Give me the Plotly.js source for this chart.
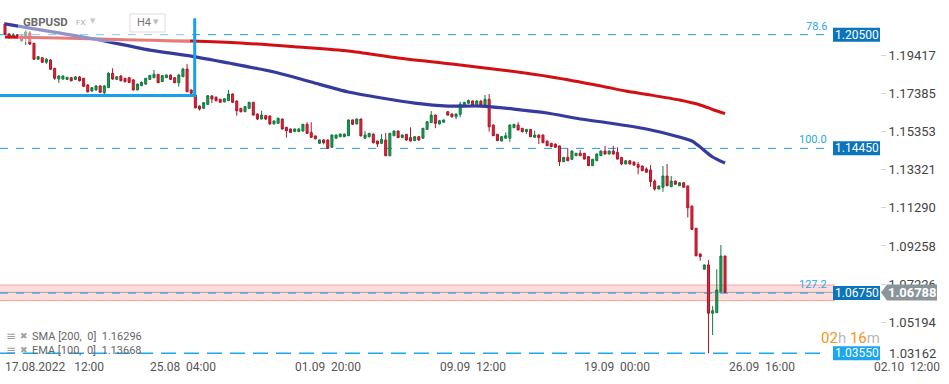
<!DOCTYPE html>
<html>
<head>
<meta charset="utf-8">
<script src="https://cdn.plot.ly/plotly-3.0.1.min.js"></script>
<style>
html,body{margin:0;padding:0;background:#fff;}
#chart{width:949px;height:384px;}
</style>
</head>
<body>
<div id="chart"></div>
<script>
// ---------- DATA (GBPUSD, H4 bars) ----------
const openP = [1.2107,1.2053,1.2043,1.2048,1.2043,1.2037,1.2059,1.2004,1.1919,1.1927,
1.1903,1.1915,1.1871,1.1814,1.1814,1.1812,1.1821,1.1812,1.1825,1.1818,
1.1782,1.1750,1.1756,1.1777,1.1741,1.1768,1.1844,1.1812,1.1830,1.1818,
1.1821,1.1809,1.1756,1.1778,1.1787,1.1812,1.1821,1.1839,1.1800,1.1821,
1.1835,1.1821,1.1794,1.1826,1.1867,1.1756,1.1729,1.1670,1.1658,1.1679,
1.1724,1.1717,1.1706,1.1692,1.1699,1.1734,1.1697,1.1658,1.1640,1.1658,
1.1690,1.1628,1.1601,1.1619,1.1617,1.1575,1.1578,1.1601,1.1557,1.1548,
1.1534,1.1534,1.1537,1.1573,1.1530,1.1511,1.1472,1.1490,1.1490,1.1451,
1.1499,1.1507,1.1507,1.1512,1.1596,1.1575,1.1601,1.1499,1.1507,1.1521,
1.1484,1.1472,1.1490,1.1406,1.1512,1.1537,1.1502,1.1520,1.1502,1.1486,
1.1507,1.1499,1.1546,1.1582,1.1622,1.1575,1.1584,1.1640,1.1628,1.1613,
1.1626,1.1672,1.1685,1.1697,1.1672,1.1697,1.1676,1.1706,1.1569,1.1520,
1.1484,1.1499,1.1499,1.1555,1.1569,1.1552,1.1534,1.1546,1.1504,1.1516,
1.1516,1.1484,1.1472,1.1468,1.1458,1.1374,1.1397,1.1387,1.1406,1.1419,
1.1419,1.1401,1.1353,1.1379,1.1406,1.1431,1.1415,1.1431,1.1424,1.1397,
1.1362,1.1379,1.1372,1.1359,1.1351,1.1335,1.1330,1.1271,1.1229,1.1238,
1.1298,1.1241,1.1271,1.1246,1.1262,1.1245,1.1138,1.1020,1.0883,1.0802,
1.0825,1.0568,1.0571,1.0682,1.0872];
const highP = [1.2117,1.2059,1.2059,1.2053,1.2048,1.2075,1.2069,1.2006,1.1936,1.1931,
1.1926,1.1920,1.1873,1.1835,1.1833,1.1825,1.1825,1.1830,1.1830,1.1819,
1.1787,1.1771,1.1782,1.1782,1.1782,1.1851,1.1871,1.1830,1.1835,1.1819,
1.1825,1.1814,1.1790,1.1801,1.1819,1.1835,1.1862,1.1841,1.1835,1.1838,
1.1838,1.1825,1.1841,1.1873,1.1894,1.1758,1.1732,1.1673,1.1692,1.1729,
1.1729,1.1721,1.1708,1.1713,1.1756,1.1737,1.1700,1.1660,1.1670,1.1692,
1.1692,1.1630,1.1645,1.1622,1.1620,1.1593,1.1609,1.1604,1.1559,1.1551,
1.1551,1.1553,1.1575,1.1584,1.1584,1.1513,1.1492,1.1495,1.1492,1.1519,
1.1519,1.1524,1.1524,1.1599,1.1599,1.1604,1.1604,1.1537,1.1527,1.1524,
1.1487,1.1521,1.1527,1.1527,1.1540,1.1540,1.1519,1.1521,1.1557,1.1511,
1.1511,1.1553,1.1591,1.1644,1.1625,1.1596,1.1599,1.1644,1.1630,1.1630,
1.1693,1.1692,1.1705,1.1700,1.1702,1.1700,1.1729,1.1734,1.1572,1.1521,
1.1511,1.1530,1.1572,1.1575,1.1584,1.1553,1.1548,1.1548,1.1539,1.1519,
1.1519,1.1487,1.1474,1.1471,1.1460,1.1399,1.1445,1.1434,1.1420,1.1436,
1.1420,1.1403,1.1388,1.1418,1.1434,1.1458,1.1434,1.1458,1.1451,1.1399,
1.1383,1.1383,1.1375,1.1372,1.1354,1.1344,1.1356,1.1280,1.1247,1.1351,
1.1362,1.1298,1.1274,1.1266,1.1266,1.1247,1.1141,1.1021,1.0886,1.0827,
1.0851,1.0606,1.0802,1.0931,1.0875];
const lowP = [1.2048,1.2027,1.2032,1.2032,1.2011,1.1995,1.1995,1.1915,1.1915,1.1899,
1.1894,1.1862,1.1809,1.1793,1.1809,1.1809,1.1801,1.1809,1.1801,1.1771,
1.1742,1.1745,1.1750,1.1740,1.1718,1.1766,1.1809,1.1809,1.1801,1.1795,
1.1793,1.1753,1.1753,1.1777,1.1782,1.1809,1.1819,1.1793,1.1798,1.1819,
1.1809,1.1793,1.1773,1.1825,1.1745,1.1734,1.1657,1.1646,1.1654,1.1676,
1.1686,1.1694,1.1686,1.1689,1.1697,1.1686,1.1619,1.1636,1.1638,1.1654,
1.1620,1.1596,1.1599,1.1596,1.1569,1.1572,1.1575,1.1545,1.1502,1.1527,
1.1532,1.1532,1.1535,1.1521,1.1500,1.1492,1.1468,1.1466,1.1442,1.1447,
1.1495,1.1505,1.1505,1.1511,1.1569,1.1572,1.1508,1.1495,1.1503,1.1471,
1.1452,1.1468,1.1404,1.1402,1.1511,1.1500,1.1500,1.1484,1.1482,1.1484,
1.1484,1.1495,1.1543,1.1580,1.1552,1.1572,1.1583,1.1620,1.1609,1.1600,
1.1610,1.1670,1.1681,1.1670,1.1670,1.1673,1.1673,1.1534,1.1511,1.1484,
1.1482,1.1497,1.1480,1.1553,1.1540,1.1529,1.1521,1.1505,1.1503,1.1468,
1.1474,1.1458,1.1452,1.1447,1.1351,1.1372,1.1378,1.1383,1.1404,1.1404,
1.1386,1.1351,1.1351,1.1378,1.1404,1.1412,1.1412,1.1412,1.1386,1.1356,
1.1359,1.1359,1.1353,1.1307,1.1325,1.1317,1.1241,1.1220,1.1226,1.1214,
1.1245,1.1239,1.1253,1.1245,1.1237,1.1078,1.1013,1.0870,1.0847,1.0801,
1.0355,1.0452,1.0569,1.0681,1.0676];
const closeP = [1.2053,1.2043,1.2048,1.2037,1.2018,1.2064,1.2000,1.1919,1.1933,1.1903,
1.1919,1.1866,1.1818,1.1830,1.1830,1.1823,1.1805,1.1825,1.1805,1.1775,
1.1746,1.1768,1.1777,1.1743,1.1777,1.1844,1.1814,1.1826,1.1805,1.1800,
1.1796,1.1756,1.1787,1.1796,1.1818,1.1833,1.1839,1.1794,1.1832,1.1835,
1.1812,1.1794,1.1835,1.1867,1.1746,1.1738,1.1661,1.1654,1.1688,1.1725,
1.1708,1.1699,1.1690,1.1709,1.1734,1.1690,1.1645,1.1640,1.1667,1.1690,
1.1622,1.1601,1.1622,1.1601,1.1575,1.1591,1.1605,1.1548,1.1539,1.1530,
1.1548,1.1548,1.1573,1.1525,1.1504,1.1496,1.1490,1.1475,1.1445,1.1516,
1.1516,1.1521,1.1521,1.1596,1.1573,1.1601,1.1512,1.1516,1.1525,1.1475,
1.1468,1.1493,1.1406,1.1525,1.1537,1.1502,1.1516,1.1490,1.1484,1.1507,
1.1490,1.1552,1.1587,1.1622,1.1578,1.1592,1.1596,1.1622,1.1613,1.1628,
1.1681,1.1690,1.1699,1.1672,1.1697,1.1676,1.1706,1.1560,1.1512,1.1486,
1.1507,1.1512,1.1569,1.1573,1.1543,1.1534,1.1546,1.1507,1.1516,1.1502,
1.1475,1.1459,1.1454,1.1451,1.1374,1.1397,1.1379,1.1431,1.1419,1.1406,
1.1388,1.1353,1.1387,1.1415,1.1431,1.1415,1.1431,1.1415,1.1388,1.1362,
1.1379,1.1362,1.1356,1.1344,1.1326,1.1318,1.1268,1.1229,1.1245,1.1298,
1.1246,1.1271,1.1254,1.1262,1.1238,1.1129,1.1014,1.0874,1.0869,1.0825,
1.0568,1.0581,1.0692,1.0872,1.06788];

// Moving averages (read at selected bars)
const smaIdx = [0,13,23,35,45,57,71,83,95,108,120,132,144,150,156,163,168,171,174];
const smaVal = [1.2037,1.2032,1.2027,1.2020,1.2016,1.2006,1.1984,1.1963,1.1926,1.1894,
                1.1862,1.1825,1.1777,1.1750,1.1729,1.1702,1.1676,1.1652,1.16296];
const emaIdx = [0,6,13,23,35,45,54,66,74,83,91,99,107,115,123,131,139,146,155,162,166,168,171,174];
const emaVal = [1.2107,1.2085,1.2059,1.2021,1.1968,1.1936,1.1899,1.1846,1.1798,1.1745,
                1.1713,1.1686,1.1670,1.1670,1.1654,1.1633,1.1601,1.1580,1.1548,1.1511,
                1.1484,1.1452,1.1399,1.13668];

// Time axis labels (positioned at bar numbers)
const xTickIdx = [0,35,70,105,140,175,210];
const xTickText = ['17.08.2022\u00a0\u00a0\u00a012:00','25.08\u00a0\u00a004:00','01.09\u00a0\u00a020:00',
                   '09.09\u00a0\u00a012:00','19.09\u00a0\u00a000:00','26.09\u00a0\u00a016:00','02.10\u00a0\u00a012:00'];

// Price axis ticks
const yTickVals = [1.19417,1.17385,1.15353,1.13321,1.11290,1.09258,1.07226,1.05194];
const yBottomLabel = 1.03162;

// Fibonacci levels
const fibLevels = [1.2050, 1.1445, 1.0675];
const fibNames  = ['78.6','100.0','127.2'];
const lowLevel  = 1.0355;
const zoneTop = 1.0718, zoneBottom = 1.0635;
const boxLevel = 1.1726, boxTop = 1.2137, boxRightBar = 45.84;

const smaLegend = {name:'SMA', period:200, value:1.16296};
const emaLegend = {name:'EMA', period:100, value:1.13668};

// ---------- LAYOUT HELPERS ----------
const PW = 880, PH = 357;
const XR = [-1.21, 211.45];
const YR = [1.03351, 1.22343];
const px = v => v / PW;               // pixel -> paper x
const pyPix = v => 1 - v / PH;        // pixel -> paper y
const pyPrice = p => (p - YR[0]) / (YR[1] - YR[0]);

const barIdx = openP.map((_, i) => i);
const lastClose = closeP[closeP.length - 1];

const traces = [
  {type:'candlestick', x:barIdx, open:openP, high:highP, low:lowP, close:closeP,
   increasing:{line:{color:'#117a3f', width:1}, fillcolor:'#1e9b56'},
   decreasing:{line:{color:'#ae1528', width:1}, fillcolor:'#e3253b'},
   whiskerwidth:0, hoverinfo:'skip', showlegend:false},
  {type:'scatter', mode:'lines', x:smaIdx, y:smaVal,
   line:{color:'#d20f12', width:3, shape:'spline', smoothing:0.7}, hoverinfo:'skip'},
  {type:'scatter', mode:'lines', x:emaIdx, y:emaVal,
   line:{color:'#353b9d', width:3.2, shape:'spline', smoothing:0.7}, hoverinfo:'skip'}
];

const shapes = [];
const annotations = [];

// support/resistance zone
shapes.push({type:'rect', xref:'paper', yref:'y', x0:0, x1:px(835), y0:zoneBottom, y1:zoneTop,
             fillcolor:'#fddcdc', line:{width:0}, layer:'below'});
[zoneTop, zoneBottom].forEach(v => shapes.push({type:'line', xref:'paper', yref:'y', x0:0, x1:px(835),
             y0:v, y1:v, line:{color:'#f2a5a5', width:1}, layer:'below'}));
// current price line
shapes.push({type:'line', xref:'paper', yref:'y', x0:0, x1:1, y0:lastClose, y1:lastClose,
             line:{color:'#9ea6aa', width:1}, layer:'below'});
// fib dashed lines
fibLevels.forEach((lv, i) => {
  shapes.push({type:'line', xref:'paper', yref:'y', x0:0, x1:px(828), y0:lv, y1:lv,
               line:{color:'#1e9fe3', width:1, dash:'8px,8px'}, layer:'below'});
  shapes.push({type:'rect', xref:'paper', yref:'paper', x0:px(833), x1:px(880),
               y0:pyPrice(lv) - 7/PH, y1:pyPrice(lv) + 7/PH, fillcolor:'#0b74ba', line:{width:0}, layer:'above'});
  annotations.push({xref:'paper', yref:'y', x:px(856.5), y:lv, xanchor:'center', yanchor:'middle',
               text:lv.toFixed(5), showarrow:false, font:{size:12, color:'#ffffff', family:'Roboto'}});
  annotations.push({xref:'paper', yref:'y', x:px(829), y:lv, xanchor:'right', yanchor:'bottom', yshift:0,
               text:fibNames[i], showarrow:false, font:{size:11, color:'#2aa6ee', family:'Roboto'}});
});
// low line
shapes.push({type:'line', xref:'paper', yref:'y', x0:0, x1:px(828), y0:lowLevel, y1:lowLevel,
             line:{color:'#1aa7f0', width:1.5, dash:'15px,8px'}, layer:'below'});
shapes.push({type:'rect', xref:'paper', yref:'paper', x0:px(833), x1:px(880),
             y0:pyPrice(lowLevel) - 7/PH, y1:pyPrice(lowLevel) + 7/PH, fillcolor:'#1ba6ef', line:{width:0}, layer:'above'});
annotations.push({xref:'paper', yref:'y', x:px(856.5), y:lowLevel, xanchor:'center', yanchor:'middle',
             text:lowLevel.toFixed(5), showarrow:false, font:{size:12, color:'#ffffff', family:'Roboto'}});

// drawn range box (thick blue)
shapes.push({type:'line', xref:'x', yref:'y', x0:XR[0] - 1, x1:boxRightBar + 0.35, y0:boxLevel, y1:boxLevel,
             line:{color:'#17a1ea', width:3}, layer:'above'});
shapes.push({type:'line', xref:'x', yref:'y', x0:boxRightBar, x1:boxRightBar, y0:boxLevel, y1:boxTop,
             line:{color:'#17a1ea', width:3}, layer:'above'});

// header overlay and widgets
shapes.push({type:'rect', xref:'paper', yref:'paper', x0:px(18), x1:px(190), y0:pyPix(42), y1:pyPix(6),
             fillcolor:'rgba(255,255,255,0.45)', line:{width:0}, layer:'above'});
shapes.push({type:'rect', xref:'paper', yref:'paper', x0:px(130), x1:px(165), y0:pyPix(32), y1:pyPix(14),
             fillcolor:'#ffffff', line:{color:'#dcdcdc', width:1}, layer:'above'});
annotations.push({xref:'paper', yref:'paper', x:px(21), y:pyPix(22), xanchor:'left', yanchor:'middle',
             text:'<b>GBPUSD</b>', showarrow:false, font:{size:11.5, color:'#6a6a6a', family:'Roboto'}});
annotations.push({xref:'paper', yref:'paper', x:px(74), y:pyPix(23), xanchor:'left', yanchor:'middle',
             text:'FX', showarrow:false, font:{size:8, color:'#aaaaaa', family:'Roboto'}});
annotations.push({xref:'paper', yref:'paper', x:px(88), y:pyPix(21), xanchor:'left', yanchor:'middle',
             text:'▼', showarrow:false, font:{size:7, color:'#c8c8c8', family:'DejaVu Sans'}});
annotations.push({xref:'paper', yref:'paper', x:px(135), y:pyPix(23), xanchor:'left', yanchor:'middle',
             text:'H4', showarrow:false, font:{size:11, color:'#777777', family:'Roboto'}});
annotations.push({xref:'paper', yref:'paper', x:px(151), y:pyPix(22), xanchor:'left', yanchor:'middle',
             text:'▼', showarrow:false, font:{size:7, color:'#bbbbbb', family:'DejaVu Sans'}});

// current price label (grey, arrow shaped)
(function(){
  const yc = pyPrice(lastClose), hh = 8/PH;
  shapes.push({type:'path', xref:'paper', yref:'paper', layer:'above', fillcolor:'#8b9599', line:{width:0},
    path:`M ${px(881)} ${yc} L ${px(887)} ${yc+hh} L ${px(937)} ${yc+hh} L ${px(937)} ${yc-hh} L ${px(887)} ${yc-hh} Z`});
  annotations.push({xref:'paper', yref:'y', x:px(912), y:lastClose, xanchor:'center', yanchor:'middle',
    text:'<b>' + lastClose.toFixed(5) + '</b>', showarrow:false, font:{size:13, color:'#ffffff', family:'Roboto'}});
})();

// bottom price label
annotations.push({xref:'paper', yref:'y', x:px(887), y:1.0353, xanchor:'left', yanchor:'middle',
             text:yBottomLabel.toFixed(5), showarrow:false, font:{size:13, color:'#444444', family:'Roboto'}});

// countdown
annotations.push({xref:'paper', yref:'paper', x:px(881), y:pyPix(348), xanchor:'right', yanchor:'bottom',
  text:'<span style="color:#f7941d">02</span><span style="color:#b9b9b9">h</span> <span style="color:#f7941d">16</span><span style="color:#b9b9b9">m</span>',
  showarrow:false, borderpad:0, font:{size:15, family:'Roboto'}});

// indicator legend
[[smaLegend, 336], [emaLegend, 350]].forEach(([lg, yy]) => {
  annotations.push({xref:'paper', yref:'paper', x:px(4), y:pyPix(yy), xanchor:'left', yanchor:'middle',
    text:'≡', showarrow:false, font:{size:12, color:'#a0a0a0', family:'DejaVu Sans'}});
  annotations.push({xref:'paper', yref:'paper', x:px(18), y:pyPix(yy), xanchor:'left', yanchor:'middle',
    text:'✖', showarrow:false, font:{size:9, color:'#a0a0a0', family:'DejaVu Sans'}});
  annotations.push({xref:'paper', yref:'paper', x:px(30), y:pyPix(yy), xanchor:'left', yanchor:'middle',
    text:`${lg.name}\u00a0[${lg.period},\u00a0\u00a00]\u00a0\u00a0${lg.value.toFixed(5)}`,
    showarrow:false, font:{size:11, color:'#666666', family:'Roboto'}});
});

// time labels
xTickIdx.forEach((xi, i) => annotations.push({xref:'x', yref:'paper', x:xi, y:pyPix(367), xanchor:'left', yanchor:'middle',
  xshift:-2, text:xTickText[i], showarrow:false, font:{size:12, color:'#555555', family:'Roboto'}}));

const layout = {
  width:949, height:384,
  margin:{l:0, r:69, t:0, b:27, pad:0},
  paper_bgcolor:'#ffffff', plot_bgcolor:'#ffffff',
  showlegend:false,
  font:{family:'Roboto, sans-serif', color:'#555555'},
  xaxis:{range:XR, showgrid:false, zeroline:false, showticklabels:false, ticks:'', showline:false,
         rangeslider:{visible:false}, fixedrange:true},
  yaxis:{range:YR, side:'right', showgrid:false, zeroline:false, showline:false,
         ticks:'outside', ticklen:5, tickcolor:'#d4d4d4', tickwidth:1,
         tickvals:yTickVals, ticktext:yTickVals.map(v => v.toFixed(5)),
         tickfont:{size:13, color:'#444444', family:'Roboto'}, fixedrange:true},
  shapes:shapes, annotations:annotations
};

Plotly.newPlot('chart', traces, layout, {staticPlot:true, displayModeBar:false});
</script>
</body>
</html>
